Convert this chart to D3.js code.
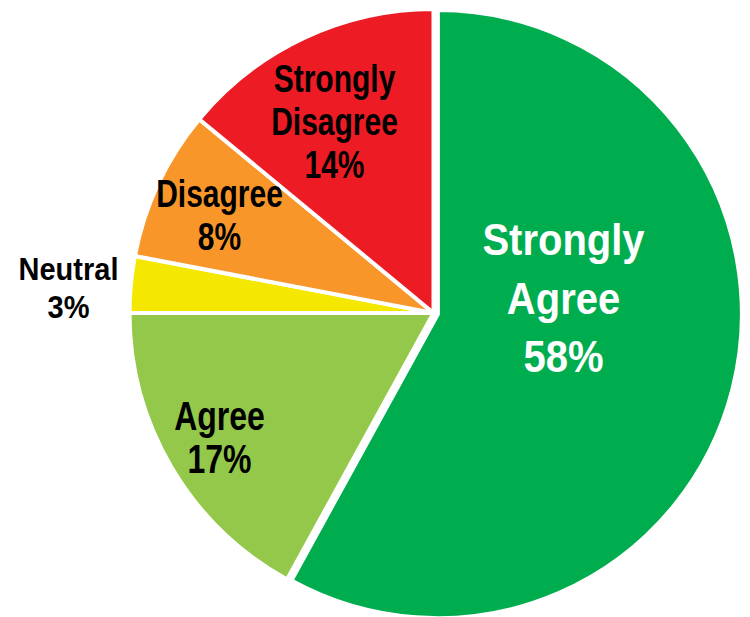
<!DOCTYPE html>
<html>
<head>
<meta charset="utf-8">
<script src="https://cdn.jsdelivr.net/npm/d3@7"></script>
<style>
  html, body { margin: 0; padding: 0; background: #ffffff; }
  svg { display: block; }
  text { font-family: "Liberation Sans", Arial, Helvetica, sans-serif; font-weight: bold; }
</style>
</head>
<body>
<svg id="chart" width="750" height="617"></svg>
<script>
// ---- data ----
const categories = ["Strongly Agree", "Agree", "Neutral", "Disagree", "Strongly Disagree"];
const percents = [58, 17, 3, 8, 14];
const labelLines = [["Strongly", "Agree"], ["Agree"], ["Neutral"], ["Disagree"], ["Strongly", "Disagree"]];

// ---- styles / layout ----
const colors = ["#00ad4e", "#93c84b", "#f5e800", "#f8962a", "#ed1c24"];
const textColors = ["#ffffff", "#000000", "#000000", "#000000", "#000000"];
const fontSizes = [40, 32, 29, 30, 30];
const lineHeights = [58.5, 43, 38, 43, 43];
const stretchY = [1.12, 1.28, 1.1, 1.28, 1.28];
// label anchor: [dx from centre, first-baseline dy from centre]
const labelAnchors = [[130, -58], [-214, 117], [-365, -33], [-214, -106], [-99, -221]];
const explode = [4.5, 0, 0, 0, 0];

const W = 750, H = 617;
const cx = 433.5, cy = 313, R = 304;

const svg = d3.select("#chart");
const g = svg.append("g").attr("transform", `translate(${cx},${cy})`);

const rows = categories.map((c, i) => ({ cat: c, value: percents[i], i }));
const pie = d3.pie().sort(null).value(d => d.value).startAngle(0).endAngle(2 * Math.PI);
const arc = d3.arc().innerRadius(0).outerRadius(R);
const arcs = pie(rows);

g.selectAll("path.slice")
  .data(arcs)
  .join("path")
  .attr("class", "slice")
  .attr("d", arc)
  .attr("fill", d => colors[d.data.i])
  .attr("stroke", "#ffffff")
  .attr("stroke-width", 4)
  .attr("stroke-linejoin", "miter")
  .attr("transform", d => {
    const mid = (d.startAngle + d.endAngle) / 2;
    const [x, y] = d3.pointRadial(mid, explode[d.data.i]);
    return `translate(${x},${y})`;
  });

// labels
arcs.forEach(d => {
  const i = d.data.i;
  const lines = labelLines[i].concat([d.data.value + "%"]);
  const [ax, ay] = labelAnchors[i];
  lines.forEach((t, k) => {
    g.append("text")
      .attr("transform", `translate(${ax},${ay + k * lineHeights[i]}) scale(1,${stretchY[i]})`)
      .attr("text-anchor", "middle")
      .attr("font-size", fontSizes[i])
      .attr("fill", textColors[i])
      .text(t);
  });
});
</script>
</body>
</html>
